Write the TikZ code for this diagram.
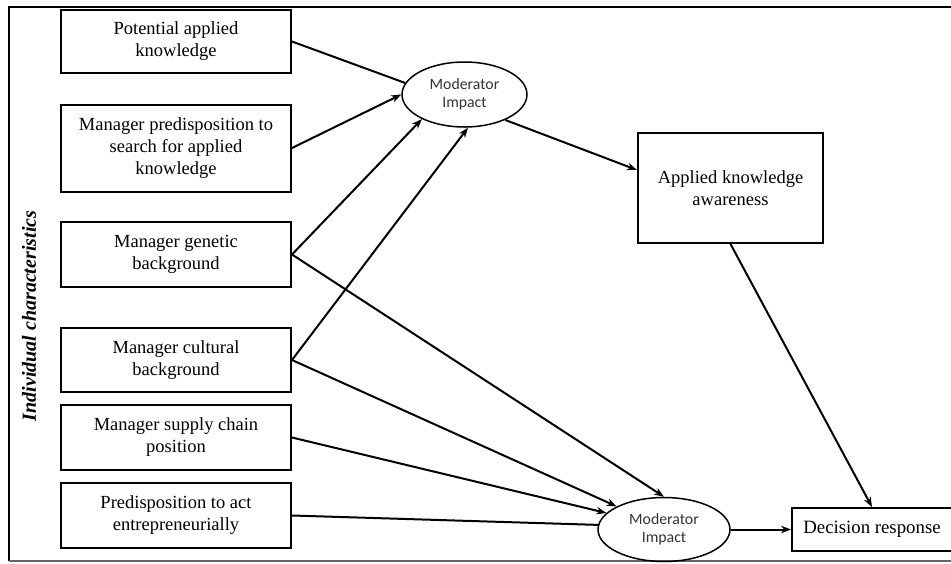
\documentclass[tikz,border=0pt]{standalone}
\usepackage{fontspec}
\setmainfont{Liberation Serif}
\newfontfamily\modfont{Carlito}
\usetikzlibrary{shapes.geometric,arrows.meta}
\tikzset{
	factor/.style={draw, line width=2pt, minimum width=230pt, align=center, inner sep=0pt, font=\fontsize{18.5}{22}\selectfont},
	moder/.style={draw, ellipse, line width=1.5pt, inner sep=0pt, align=center, text=black!80, font=\modfont\fontsize{15.8}{18.5}\selectfont},
	link/.style={line width=2pt, -{Stealth[length=10pt,width=7.5pt]}},
	bare/.style={line width=2pt}
}

\begin{document}
\begin{tikzpicture}[x=1pt, y=-1pt]
		%%%%% START %%%%%
		\useasboundingbox (0, 0) rectangle (951, 563);
		
		\draw[line width=2.5pt] (951, 7) -- (9, 7) -- (9, 561);
		\draw[line width=2pt, color=black!60] (9, 561) -- (951, 561);
		
		\node[rotate=90, font=\bfseries\itshape\fontsize{20}{22}\selectfont] (side) at (29, 316) {Individual characteristics};
		
		\node[factor, minimum height=63pt] (pak) at (176, 41.5) {Potential applied\\knowledge};
		\node[factor, minimum height=87pt] (search) at (176, 148) {Manager predisposition to\\search for applied\\knowledge};
		\node[factor, minimum height=65pt] (genetic) at (176, 254.5) {Manager genetic\\background};
		\node[factor, minimum height=64pt] (cultural) at (176, 360) {Manager cultural\\background};
		\node[factor, minimum height=65pt] (supply) at (176, 437.5) {Manager supply chain\\position};
		\node[factor, minimum height=65pt] (entre) at (176, 515.5) {Predisposition to act\\entrepreneurially};
		
		\node[moder, minimum width=125pt, minimum height=65pt] (modA) at (464.5, 94.5) {Moderator\\Impact};
		\node[moder, minimum width=132pt, minimum height=64pt] (modB) at (664, 529.5) {Moderator\\Impact};
		
		\node[factor, minimum width=185pt, minimum height=110pt] (aware) at (730.5, 188) {Applied knowledge\\awareness};
		\node[factor, minimum width=160pt, minimum height=43pt, font=\fontsize{18.8}{22}\selectfont] (decision) at (872, 529.5) {Decision response};
		
		% into the upper moderator
		\draw[bare] (pak.east) -- (modA.169);
		\draw[link] (search.east) -- (modA.180);
		\draw[link] (genetic.east) -- (modA.210);
		\draw[link] (cultural.east) -- (modA.276);
		
		% into the lower moderator
		\draw[link] (genetic.east) -- (modB.north);
		\draw[link] (cultural.east) -- (modB.154);
		\draw[link] (supply.east) -- (modB.164);
		\draw[bare] (entre.east) -- (modB.176);
		
		\draw[link] (modA.328) -- ([yshift=18pt]aware.west);
		\draw[link] (aware.south) -- (decision.north);
		\draw[link] (modB.east) -- (decision.west);
		
		%%%%% END %%%%%
\end{tikzpicture}
\end{document}
